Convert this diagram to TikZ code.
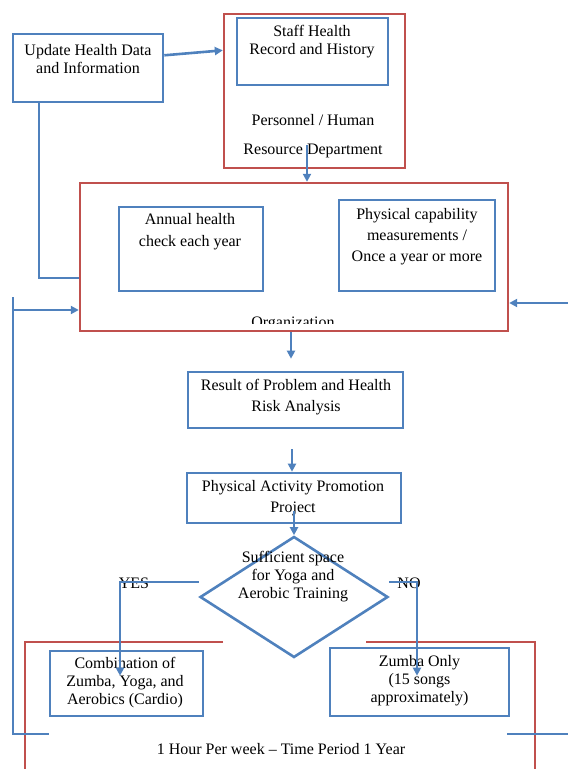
\documentclass[tikz,border=0pt]{standalone}
\usepackage{fontspec}
\setmainfont{Liberation Serif}
\usepackage{tikz}
\usetikzlibrary{arrows.meta}
\usetikzlibrary{calc,shapes.geometric}
\definecolor{boxblue}{HTML}{4F81BD}
\definecolor{boxred}{HTML}{C0504D}
\tikzset{bluebox/.style={draw=boxblue, line width=2.6pt, inner sep=0pt}}
\tikzset{redbox/.style={draw=boxred, line width=2.4pt, inner sep=0pt}}
\tikzset{txt/.style={align=center, font=\fontsize{16}{18}\selectfont, inner sep=0pt}}
\tikzset{link/.style={boxblue, line width=2.6pt, ->, >={Triangle[length=8pt,width=8pt]}}}
\tikzset{plainlink/.style={boxblue, line width=2.6pt}}

\begin{document}
\begin{tikzpicture}[x=1pt, y=-1pt]
\useasboundingbox (0,0) rectangle (568,769);
\node[bluebox, minimum width=150pt, minimum height=68pt] (update) at (88,68) {};
\node[redbox, minimum width=181pt, minimum height=154pt] (staff) at (314.5,91) {};
\node[bluebox, minimum width=151pt, minimum height=67pt] (record) at (312.5,51.5) {};
\node[redbox, minimum width=428pt, minimum height=148pt] (org) at (294,257) {};
\node[bluebox, minimum width=144pt, minimum height=84pt] (annual) at (191,249) {};
\node[bluebox, minimum width=156pt, minimum height=91pt] (capab) at (417,245.5) {};
\node[bluebox, minimum width=215pt, minimum height=56pt] (result) at (295.5,400) {};
\node[bluebox, minimum width=214pt, minimum height=50pt] (promo) at (294,498) {};
\node[bluebox, diamond, minimum width=188pt, minimum height=121pt] (decide) at (294,597) {};
\node[bluebox, minimum width=153pt, minimum height=65pt] (combo) at (126.5,683.5) {};
\node[bluebox, minimum width=179pt, minimum height=68pt] (zumba) at (419.5,682) {};
\draw[boxred, line width=2.4pt] (223,642) -- (25,642) -- (25,775);
\draw[boxred, line width=2.4pt] (366,642) -- (535,642) -- (535,775);

\node[txt] (updatetxt) at (88,59) {Update Health Data\\and Information};
\node[txt] (recordtxt) at (312,42) {Staff Health\\Record and History};
\node[txt] (depttxt) at (313,136.5) {Personnel / Human\\[11pt]Resource Department};
\node[txt] (annualtxt) at (190,232) {Annual health\\[4pt]check each year};
\node[txt] (capabtxt) at (417,237) {Physical capability\\[3pt]measurements /\\[3pt]Once a year or more};
\begin{scope}
\clip (80,183) rectangle (508,323.5);
\node[txt, anchor=base] (orgtxt) at (293,327) {Organization};
\end{scope}
\node[txt] (resulttxt) at (296,397.5) {Result of Problem and Health\\[3pt]Risk Analysis};
\node[txt] (promotxt) at (293,498.5) {Physical Activity Promotion\\[3pt]Project};
\node[txt] (decidetxt) at (293,576.5) {Sufficient space\\for Yoga and\\Aerobic Training};
\node[txt] (combotxt) at (125,683) {Combination of\\Zumba, Yoga, and\\Aerobics (Cardio)};
\node[txt] (zumbatxt) at (419.5,681) {Zumba Only\\(15 songs\\approximately)};
\node[txt] (period) at (281,749) {1 Hour Per week -- Time Period 1 Year};
\node[txt] (yes) at (134,583) {YES};
\node[txt] (no) at (409,583) {NO};

\coordinate (looptop) at (13,297);
\coordinate (loopin) at (13,310);
\coordinate (loopbot) at (13,734);
\coordinate (loopend) at (49,734);
\coordinate (rightin) at (568,303);
\coordinate (rightout) at (507,734);
\coordinate (rightedge) at (568,734);

\draw[link] ($(update.north east)!0.32!(update.south east)$) -- ($(staff.north west)!0.24!(staff.south west)$);
\draw[link] ([xshift=-7.5pt,yshift=24pt]staff.south) -- ([xshift=13pt]org.north);
\draw[plainlink] ([xshift=-49pt]update.south) |- ($(org.north west)!0.64!(org.south west)$);
\draw[plainlink] (looptop) -- (loopbot) -- (loopend);
\draw[link] (loopin) -- (loopin -| org.west);
\draw[link] (rightin) -- (rightin -| org.east);
\draw[plainlink] (rightout) -- (rightedge);
\draw[link] ([xshift=-3pt]org.south) -- ([xshift=-4.5pt,yshift=12pt]result.north);
\draw[link] ([xshift=-3.5pt,yshift=-20pt]result.south) -- ([xshift=-2pt]promo.north);
\draw[link] ([yshift=13pt]promo.south) -- (decide.north);
\draw[link] ([yshift=15pt]decide.west) -| ([xshift=-6.5pt,yshift=-26pt]combo.north);
\draw[link] ([yshift=15pt]decide.east) -| ([xshift=-2.5pt,yshift=-29pt]zumba.north);
\end{tikzpicture}
\end{document}
